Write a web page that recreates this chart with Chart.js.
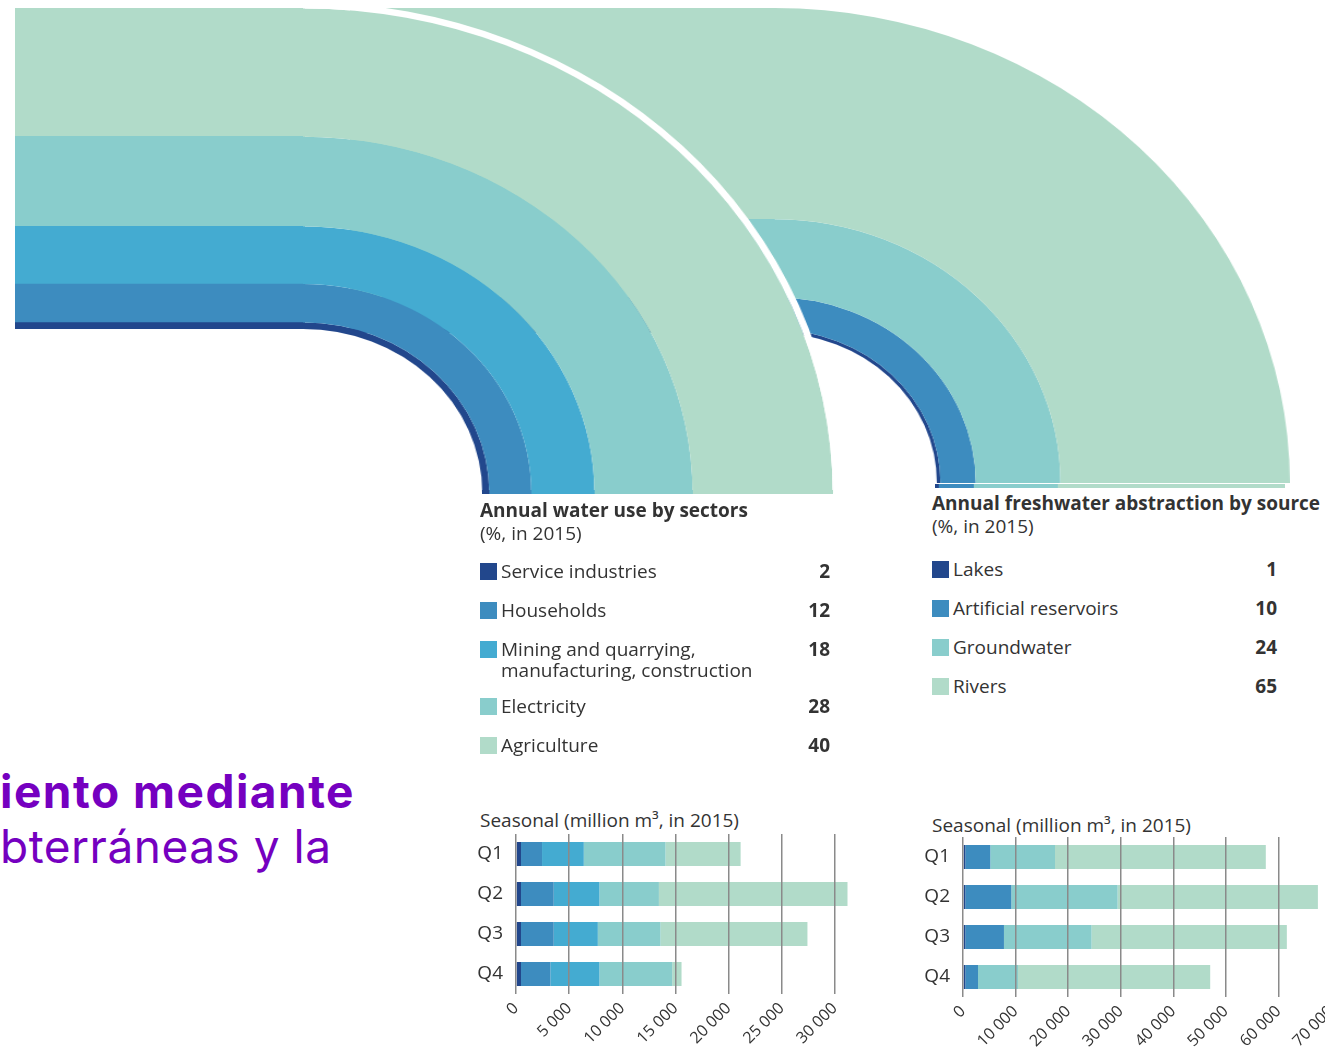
<!DOCTYPE html>
<html>
<head>
<meta charset="utf-8">
<script src="https://cdn.jsdelivr.net/npm/chart.js@4.4.1/dist/chart.umd.min.js"></script>
<style>
html, body { margin: 0; padding: 0; width: 1325px; height: 1050px; overflow: hidden; background: #fff; }
body { position: relative; font-family: "Open Sans", sans-serif; color: #333; }
.box { position: absolute; }
.box canvas { display: block; }
.legend { position: absolute; font-size: 19px; }
.legend .title { font-weight: 700; line-height: 23px; white-space: nowrap; }
.legend .sub { line-height: 23px; }
.legend .rows { position: absolute; left: 0; right: 0; }
.legend .row { position: relative; padding-left: 21px; line-height: 21px; margin-bottom: 18px; white-space: pre; }
.legend .row.two { margin-bottom: 15px; }
.legend .sw { position: absolute; left: 0; top: 2px; width: 17px; height: 17px; }
.legend .val { position: absolute; right: 0; top: 0; font-weight: 700; }
.caption { position: absolute; font-size: 19px; white-space: nowrap; }
.purple { position: absolute; left: 0; color: #7500c0; font-family: Inter, sans-serif; font-size: 46px; white-space: nowrap; }
</style>
</head>
<body>

<!-- right flow sits underneath the left one -->
<div class="box" style="left:350px; top:8px;"><canvas id="srcStraight" width="425" height="325"></canvas></div>
<div class="box" style="left:774px; top:8px; transform:scaleX(1.086); transform-origin:0 0;"><canvas id="srcBend" width="475" height="475"></canvas></div>
<div class="box" style="left:935px; top:484px;"><canvas id="srcStrip" width="350" height="4"></canvas></div>

<div class="box" style="left:15px; top:8px;"><canvas id="secStraight" width="290" height="321"></canvas></div>
<div class="box" style="left:303px; top:2px; transform:scaleX(1.093); transform-origin:0 0;"><canvas id="secBend" width="491" height="491"></canvas></div>
<div class="box" style="left:482px; top:490px;"><canvas id="secStrip" width="351" height="4"></canvas></div>

<div class="legend" id="secLegend" style="left:480px; top:499px; width:350px;">
  <div class="title">Annual water use by sectors</div>
  <div class="sub">(%, in 2015)</div>
  <div class="rows" style="top:62px;"></div>
</div>
<div class="legend" id="srcLegend" style="left:932px; top:492px; width:345px;">
  <div class="title">Annual freshwater abstraction by source</div>
  <div class="sub">(%, in 2015)</div>
  <div class="rows" style="top:67px;"></div>
</div>

<div class="caption" style="left:480px; top:807px;">Seasonal (million m³, in 2015)</div>
<div class="caption" style="left:932px; top:812px;">Seasonal (million m³, in 2015)</div>

<div class="box" style="left:470px; top:834px;"><canvas id="secSeason" width="386" height="217"></canvas></div>
<div class="box" style="left:917px; top:837px;"><canvas id="srcSeason" width="414" height="217"></canvas></div>

<div class="purple" style="top:763px; font-weight:700; letter-spacing:1.5px;">iento mediante</div>
<div class="purple" style="top:818px; font-weight:400; letter-spacing:0.5px;">bterráneas y la</div>

<script>
// annual shares (%)
const sectorNames = ['Service industries', 'Households', 'Mining and quarrying,\nmanufacturing, construction', 'Electricity', 'Agriculture'];
const sectorShares = [2, 12, 18, 28, 40];
const sectorColors = ['#22478c', '#3d8cbf', '#44abd1', '#89cdcc', '#b1dbc9'];

const sourceNames = ['Lakes', 'Artificial reservoirs', 'Groundwater', 'Rivers'];
const sourceShares = [1, 10, 24, 65];
const sourceColors = ['#22478c', '#3d8cbf', '#89cdcc', '#b1dbc9'];

// seasonal (million m3)
const quarters = ['Q1', 'Q2', 'Q3', 'Q4'];
const serviceSeason = [470, 470, 470, 470];
const householdsSeason = [1980, 3080, 3080, 2770];
const miningSeason = [3930, 4300, 4150, 4610];
const electricitySeason = [7690, 5600, 5900, 6850];
const agricultureSeason = [7070, 17750, 13830, 880];

const lakesSeason = [440, 440, 440, 440];
const reservoirsSeason = [4760, 8750, 7350, 2410];
const groundwaterSeason = [12300, 20220, 16670, 7610];
const riversSeason = [40100, 38100, 37140, 36560];

const sectorTicks = [0, 5000, 10000, 15000, 20000, 25000, 30000];
const sourceTicks = [0, 10000, 20000, 30000, 40000, 50000, 60000, 70000];

Chart.defaults.font.family = 'Open Sans';
Chart.defaults.color = '#333';

const quiet = { legend: { display: false }, tooltip: { enabled: false } };

// straight part of a flow: one stacked column
function straight(id, shares, colors) {
  new Chart(document.getElementById(id), {
    type: 'bar',
    data: {
      labels: [''],
      datasets: shares.map((v, i) => ({
        data: [v], backgroundColor: colors[i], borderWidth: 0,
        barPercentage: 1, categoryPercentage: 1
      }))
    },
    options: {
      responsive: false, animation: false, layout: { padding: 0 },
      plugins: quiet,
      scales: {
        x: { display: false, stacked: true },
        y: { display: false, stacked: true, min: 0, max: 100 }
      }
    }
  });
}

// thin end strip under a bend
function strip(id, shares, colors) {
  new Chart(document.getElementById(id), {
    type: 'bar',
    data: {
      labels: [''],
      datasets: shares.map((v, i) => ({
        data: [v], backgroundColor: colors[i], borderWidth: 0,
        barPercentage: 1, categoryPercentage: 1
      }))
    },
    options: {
      indexAxis: 'y', responsive: false, animation: false, layout: { padding: 0 },
      plugins: quiet,
      scales: {
        x: { display: false, stacked: true, min: 0, max: 100 },
        y: { display: false, stacked: true }
      }
    }
  });
}

// the quarter bend: one ring per category, ring thickness = share
function bend(id, shares, colors, inner, gap) {
  const canvas = document.getElementById(id);
  const rings = shares.map((v, i) => ({
    data: [v], weight: v, backgroundColor: colors[i], borderWidth: 0
  })).reverse();
  if (gap) rings.unshift({ data: [1], weight: gap, backgroundColor: '#ffffff', borderWidth: 0 });
  new Chart(canvas, {
    type: 'doughnut',
    data: { datasets: rings },
    options: {
      responsive: false, animation: false,
      rotation: 0, circumference: 90,
      cutout: (inner / canvas.width * 100) + '%',
      plugins: quiet
    }
  });
}

function fmt(v) {
  return String(v).replace(/\B(?=(\d{3})+(?!\d))/g, ' ');
}

function seasonal(id, series, colors, max, ticks) {
  new Chart(document.getElementById(id), {
    type: 'bar',
    data: {
      labels: quarters,
      datasets: series.map((d, i) => ({
        data: d, backgroundColor: colors[i], borderWidth: 0,
        categoryPercentage: 0.6, barPercentage: 1
      }))
    },
    options: {
      indexAxis: 'y', responsive: false, animation: false, layout: { padding: 0 },
      plugins: quiet,
      scales: {
        x: {
          stacked: true, min: 0, max: max,
          afterBuildTicks: s => { s.ticks = ticks.map(v => ({ value: v })); },
          afterFit: s => { s.height = 57; s.paddingLeft = 0; s.paddingRight = 0; },
          grid: { color: '#8a8a8a', lineWidth: 1.5, drawTicks: false, z: 1 },
          border: { display: false },
          ticks: { autoSkip: false, minRotation: 45, maxRotation: 45, padding: 5,
                   font: { size: 16 }, callback: v => fmt(v) }
        },
        y: {
          stacked: true,
          afterFit: s => { s.width = 46; s.paddingTop = 0; s.paddingBottom = 0; },
          grid: { display: false, drawTicks: false },
          border: { display: false },
          ticks: { padding: 13, font: { size: 19 } }
        }
      }
    }
  });
}

function legend(id, names, shares, colors) {
  const rows = document.querySelector('#' + id + ' .rows');
  names.forEach((n, i) => {
    const r = document.createElement('div');
    r.className = n.indexOf('\n') >= 0 ? 'row two' : 'row';
    r.innerHTML = '<span class="sw" style="background:' + colors[i] + '"></span>' +
      n + '<span class="val">' + shares[i] + '</span>';
    rows.appendChild(r);
  });
}

straight('srcStraight', sourceShares, sourceColors);
bend('srcBend', sourceShares, sourceColors, 150, 0);
strip('srcStrip', sourceShares, sourceColors);

straight('secStraight', sectorShares, sectorColors);
bend('secBend', sectorShares, sectorColors, 164, 2);
strip('secStrip', sectorShares, sectorColors);

legend('secLegend', sectorNames, sectorShares, sectorColors);
legend('srcLegend', sourceNames, sourceShares, sourceColors);

seasonal('secSeason',
  [serviceSeason, householdsSeason, miningSeason, electricitySeason, agricultureSeason],
  sectorColors, 32000, sectorTicks);
seasonal('srcSeason',
  [lakesSeason, reservoirsSeason, groundwaterSeason, riversSeason],
  sourceColors, 70000, sourceTicks);
</script>
</body>
</html>
